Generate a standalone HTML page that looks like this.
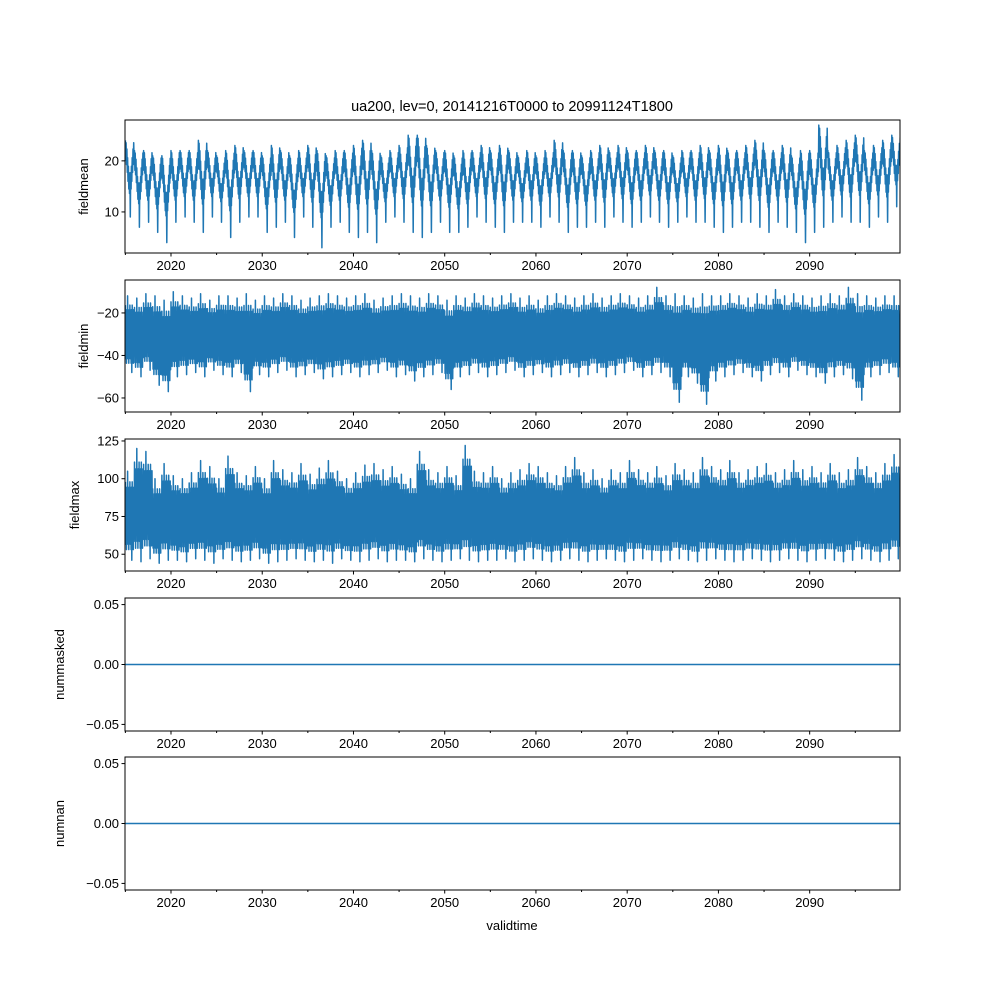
<!DOCTYPE html>
<html><head><meta charset="utf-8"><style>
body{margin:0;background:#fff}
svg{font-family:"Liberation Sans","DejaVu Sans",sans-serif}
</style></head><body>
<svg id="chart" width="1000" height="1000" viewBox="0 0 1000 1000">
<text x="512" y="111" font-size="14.5" text-anchor="middle">ua200, lev=0, 20141216T0000 to 20991124T1800</text>
<text x="512" y="930" font-size="13" text-anchor="middle">validtime</text>
</svg>
<script>
const xTickYears=[2020,2030,2040,2050,2060,2070,2080,2090];
const meanHi=[24,22,22,21,21,22,22,22,24,22,21,22,23,22,22,21,23,22,21,22,23,22,21,22,22,23,24,22,21,22,23,25,25,23,22,22,21,22,22,23,22,23,22,21,22,21,22,24,22,22,21,22,23,22,23,22,22,23,22,22,21,22,22,23,22,23,22,22,23,24,22,22,23,21,22,22,27,22,23,24,25,22,23,24,25];
const meanLo=[9,7,8,6,4,8,9,8,6,9,8,5,8,9,9,6,7,8,5,9,7,3,7,8,6,5,6,4,8,9,8,6,5,6,8,6,6,7,9,8,7,6,8,8,8,7,9,8,6,7,7,8,7,9,8,7,8,9,8,7,8,9,8,8,7,6,7,8,8,7,6,8,7,6,4,6,7,8,9,8,8,7,9,8,11];
const minHi=[-12,-13,-11,-12,-14,-10,-12,-13,-11,-14,-12,-12,-13,-11,-14,-12,-13,-11,-12,-14,-13,-12,-11,-12,-13,-12,-11,-14,-13,-12,-11,-12,-13,-11,-12,-14,-12,-13,-11,-12,-13,-12,-11,-13,-12,-14,-12,-11,-12,-13,-12,-11,-13,-12,-11,-12,-13,-12,-8,-12,-11,-12,-13,-11,-12,-12,-11,-12,-13,-11,-12,-9,-12,-11,-12,-13,-12,-11,-12,-8,-11,-12,-13,-12,-12];
const minLo=[-48,-50,-47,-54,-57,-50,-49,-48,-50,-47,-49,-50,-48,-57,-49,-50,-48,-47,-50,-49,-48,-51,-50,-49,-48,-50,-49,-48,-47,-50,-49,-52,-50,-49,-48,-56,-50,-49,-48,-50,-49,-48,-47,-50,-49,-48,-50,-49,-48,-50,-49,-48,-50,-49,-48,-47,-50,-49,-48,-50,-62,-50,-53,-63,-52,-50,-49,-48,-50,-52,-49,-48,-50,-47,-49,-50,-53,-50,-49,-51,-61,-50,-49,-48,-50];
const maxHi=[105,120,118,100,110,102,100,104,112,108,100,115,104,102,108,100,112,106,104,110,103,107,112,105,100,104,109,110,106,108,103,100,118,106,104,108,102,122,105,104,108,100,104,106,110,108,104,102,108,114,104,106,100,106,104,112,106,104,108,102,110,106,104,114,108,106,112,104,106,108,110,104,106,112,106,108,104,110,104,106,114,108,104,110,116];
const maxLo=[46,45,47,44,46,46,45,47,46,44,47,46,45,46,47,44,45,46,47,46,45,46,44,47,46,45,46,47,45,46,46,45,47,46,45,46,47,46,45,46,46,47,45,46,47,46,45,46,47,46,45,46,47,46,45,46,47,46,45,46,47,46,45,46,47,46,45,46,47,46,45,46,47,46,45,46,47,46,45,46,47,46,45,46,47];
const flatVals=[0,0];

const NS="http://www.w3.org/2000/svg";
const svg=document.getElementById('chart');
const X0=125,X1=900,T0=2014.96,T1=2099.9;
const xs=t=>X0+(t-T0)/(T1-T0)*(X1-X0);
function mk(tag,attrs,parent){const e=document.createElementNS(NS,tag);for(const k in attrs)e.setAttribute(k,attrs[k]);(parent||svg).appendChild(e);return e;}

const panels=[
 {name:'fieldmean',top:120,bot:253,lo:1.96,hi:28.0,ticks:[10,20],lab:v=>String(v)},
 {name:'fieldmin',top:280,bot:412,lo:-66.6,hi:-4.5,ticks:[-60,-40,-20],lab:v=>'\u2212'+Math.abs(v)},
 {name:'fieldmax',top:439,bot:571,lo:38.9,hi:126.3,ticks:[50,75,100,125],lab:v=>String(v)},
 {name:'nummasked',top:598,bot:731,lo:-0.0555,hi:0.0555,ticks:[-0.05,0,0.05],lab:v=>(v<0?'\u2212':'')+Math.abs(v).toFixed(2)},
 {name:'numnan',top:757,bot:890,lo:-0.0555,hi:0.0555,ticks:[-0.05,0,0.05],lab:v=>(v<0?'\u2212':'')+Math.abs(v).toFixed(2)}
];
panels.forEach((p,pi)=>{
 const g=mk('g',{});
 
 
 const ys=v=>p.bot-(v-p.lo)/(p.hi-p.lo)*(p.bot-p.top);
 let pts=[];
 if(pi<3){
  const hi=[meanHi,minHi,maxHi][pi], lo=[meanLo,minLo,maxLo][pi];
  for(let i=0;i<hi.length;i++){
   const y0=2015+i, h=hi[i], l=lo[i];
   const n=24;
   for(let k=0;k<n;k++){
    const t=y0+k/n;
    let v;
    const s=(Math.cos(2*Math.PI*k/n)+1)/2; // seasonal phase 1=winter,0=summer
    if(pi===0){
     const top=l+(h-l)*(0.55+0.45*s);
     const bot=l+(h-l)*(0.3+0.45*s);
     v=(k%2===0)?top:bot;
     if(k===0)v=h; if(k===13)v=l;
    }else{
     const r=h-l;
     if(k%2===0) v=(k===6)?h:h-r*(0.12+0.06*(k%3));
     else v=(k===17)?l:l+r*(0.12+0.06*(k%3));
    }
    pts.push(xs(t).toFixed(1)+','+ys(v).toFixed(1));
   }
  }
 }else{
  pts=[xs(T0).toFixed(1)+','+ys(flatVals[0]).toFixed(1),xs(T1).toFixed(1)+','+ys(flatVals[1]).toFixed(1)];
 }
 const cp=mk('clipPath',{id:'c'+pi},g);mk('rect',{x:X0,y:p.top,width:X1-X0,height:p.bot-p.top},cp);
 const line=mk('polyline',{points:pts.join(' '),fill:'none',stroke:'#1f77b4','stroke-width':1.5,'stroke-linejoin':'round','clip-path':'url(#c'+pi+')'},g);
 
 
 const fr=mk('rect',{x:X0,y:p.top,width:X1-X0,height:p.bot-p.top,fill:'none',stroke:'#000','stroke-width':1},g);
 
 
 p.ticks.forEach(v=>{
  const y=ys(v);
  mk('line',{x1:X0-3.5,x2:X0,y1:y,y2:y,stroke:'#000'},g);
  const t=mk('text',{x:X0-6,y:y+4.5,'font-size':13,'text-anchor':'end'},g);t.textContent=p.lab(v);
  
  
 });
 xTickYears.forEach(yr=>{
  const x=xs(yr);
  mk('line',{x1:x,x2:x,y1:p.bot,y2:p.bot+3.5,stroke:'#000'},g);
  mk('line',{x1:xs(yr+5),x2:xs(yr+5),y1:p.bot,y2:p.bot+2,stroke:'#000'},g);
  const t=mk('text',{x:x,y:p.bot+17,'font-size':13,'text-anchor':'middle'},g);t.textContent=yr;
  
  
 });
 mk('line',{x1:xs(2015),x2:xs(2015),y1:p.bot,y2:p.bot+2,stroke:'#000'},g);
 const yl=mk('text',{x:0,y:0,'font-size':13,'text-anchor':'middle',transform:`translate(${pi<2?88:pi===2?79:64},${(p.top+p.bot)/2}) rotate(-90)`},g);
 yl.textContent=p.name;
 
 
});
</script>
</body></html>
